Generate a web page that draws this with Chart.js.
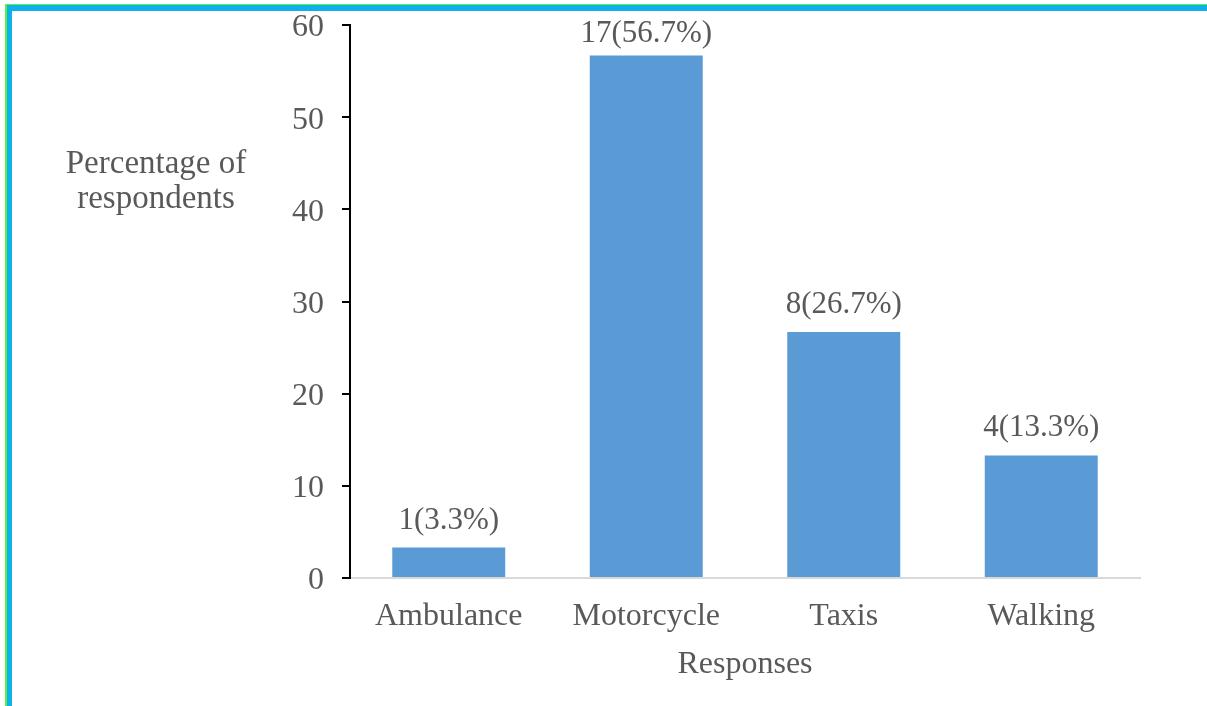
<!DOCTYPE html>
<html>
<head>
<meta charset="utf-8">
<script src="https://cdn.jsdelivr.net/npm/chart.js@4/dist/chart.umd.min.js"></script>
<style>
  html, body { margin: 0; padding: 0; background: #ffffff; }
  body { width: 1207px; height: 706px; position: relative; overflow: hidden; }
  .frame-outer { position: absolute; left: 5px; top: 4px; right: 0; bottom: 0;
                 border-left: 2px solid #5cf23a; border-top: 1px solid #5cf23a; }
  .frame-inner { position: absolute; left: 0; top: 0; right: 0; bottom: 0;
                 border-left: 5px solid #0cb0ee; border-top: 6px solid #0cb0ee; }
  #wrap { position: absolute; left: 0; top: 0; width: 1207px; height: 706px; }
</style>
</head>
<body>
<div class="frame-outer"><div class="frame-inner"></div></div>
<div id="wrap"><canvas id="chart" width="1207" height="706"></canvas></div>
<script>
// Means of transport to the health facility
const categories = ['Ambulance', 'Motorcycle', 'Taxis', 'Walking'];
const counts = [1, 17, 8, 4];
const percentages = [3.3, 56.7, 26.7, 13.3];
const yTicks = [0, 10, 20, 30, 40, 50, 60];
const yTitleLines = ['Percentage of', 'respondents'];
const xTitle = 'Responses';

const FONT = '"Liberation Serif", "Times New Roman", serif';
const TEXT = '#595959';

// value labels such as "17(56.7%)" above each bar
const barLabels = {
  id: 'barLabels',
  afterDatasetsDraw(chart) {
    const { ctx, chartArea } = chart;
    const meta = chart.getDatasetMeta(0);
    ctx.save();
    ctx.font = '31px ' + FONT;
    ctx.fillStyle = TEXT;
    ctx.textAlign = 'center';
    ctx.textBaseline = 'alphabetic';
    meta.data.forEach((bar, i) => {
      const y = Math.max(bar.y - 19, chartArea.top + 17);
      ctx.fillText(counts[i] + '(' + percentages[i].toFixed(1) + '%)', bar.x, y);
    });
    ctx.restore();
  }
};

// horizontal two-line y axis title to the left of the tick labels
const yAxisTitle = {
  id: 'yAxisTitle',
  afterDraw(chart) {
    const { ctx } = chart;
    ctx.save();
    ctx.font = '33px ' + FONT;
    ctx.fillStyle = TEXT;
    ctx.textAlign = 'center';
    ctx.textBaseline = 'alphabetic';
    yTitleLines.forEach((line, i) => ctx.fillText(line, 156, 173 + i * 35));
    ctx.restore();
  }
};

new Chart(document.getElementById('chart'), {
  type: 'bar',
  data: {
    labels: categories,
    datasets: [{
      data: percentages,
      backgroundColor: '#5b9bd5',
      borderWidth: 0,
      barPercentage: 0.572,
      categoryPercentage: 1
    }]
  },
  options: {
    responsive: false,
    animation: false,
    devicePixelRatio: 1,
    layout: { padding: { left: 0, right: 67, top: 25, bottom: 0 } },
    plugins: { legend: { display: false }, tooltip: { enabled: false } },
    scales: {
      x: {
        grid: { display: true, drawOnChartArea: false, drawTicks: false },
        border: { display: true, color: '#d9d9d9', width: 2 },
        ticks: { color: TEXT, font: { family: FONT, size: 32 }, padding: 19, maxRotation: 0 },
        title: { display: true, text: xTitle, color: TEXT,
                 font: { family: FONT, size: 32 }, padding: { top: 0, bottom: 22 } },
        afterFit(scale) { scale.height = 128; scale.paddingLeft = 0; scale.paddingRight = 0; }
      },
      y: {
        min: 0,
        max: 60,
        afterBuildTicks(scale) { scale.ticks = yTicks.map(v => ({ value: v })); },
        grid: { display: true, drawOnChartArea: false, drawTicks: true, tickLength: 8,
                color: '#000000', lineWidth: 2 },
        border: { display: true, color: '#000000', width: 2 },
        ticks: { color: TEXT, font: { family: FONT, size: 32 }, padding: 18, labelOffset: 3 },
        afterFit(scale) { scale.width = 350; scale.paddingTop = 0; scale.paddingBottom = 0; }
      }
    }
  },
  plugins: [barLabels, yAxisTitle]
});
</script>
</body>
</html>
